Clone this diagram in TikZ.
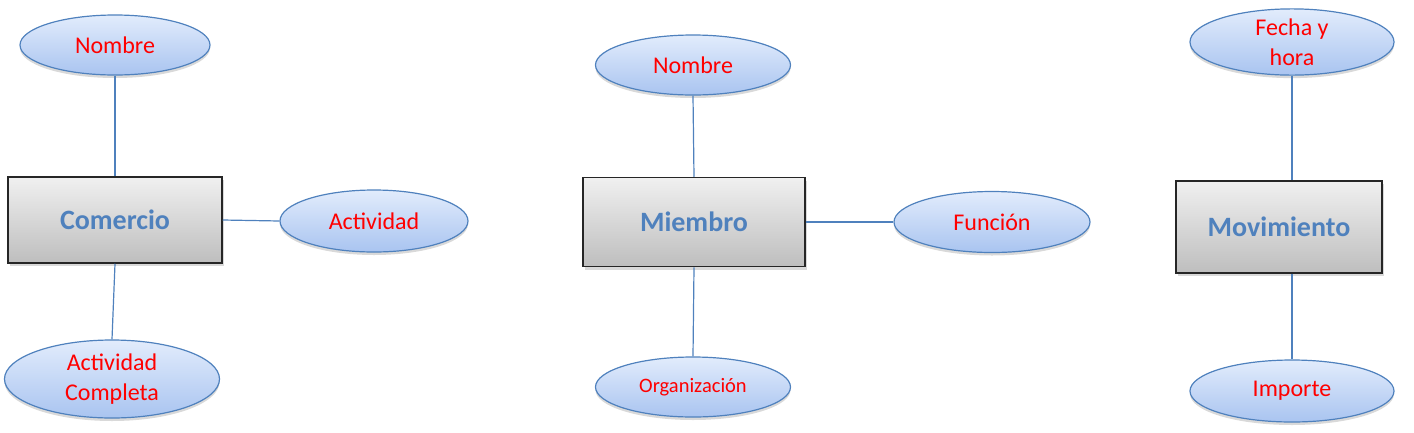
\documentclass[tikz,border=0pt]{standalone}
\usepackage{fontspec}
\setmainfont{Carlito}
\usetikzlibrary{shapes.geometric,shadows}
\definecolor{ebord}{HTML}{4F81BD}
\definecolor{etop}{HTML}{E2ECFC}
\definecolor{ebot}{HTML}{A9C4F0}
\definecolor{ltxt}{HTML}{FF0000}
\definecolor{etxt}{HTML}{4F81BD}
\definecolor{rtop}{HTML}{F0F0F0}
\definecolor{rbot}{HTML}{BEBEBE}
\tikzset{
  attr/.style={ellipse, draw=ebord, line width=1.2pt, top color=etop, bottom color=ebot,
    text=ltxt, font=\fontsize{24}{30}\selectfont, align=center, inner sep=0pt,
    drop shadow={shadow xshift=0pt, shadow yshift=-3pt, opacity=0.3}},
  ent/.style={rectangle, draw=black!85, line width=1.5pt, top color=rtop, bottom color=rbot,
    text=etxt, font=\fontsize{28}{32}\selectfont\bfseries, inner sep=0pt,
    drop shadow={shadow xshift=2pt, shadow yshift=-3pt, opacity=0.3}},
  link/.style={draw=ebord, line width=1.2pt}
}
\begin{document}
\begin{tikzpicture}[x=1pt,y=-1pt]
\useasboundingbox (0,0) rectangle (1414,432);
% Comercio
\node[ent, minimum width=214pt, minimum height=86pt] (com) at (115,220) {Comercio};
\node[attr, minimum width=190pt, minimum height=60pt] (cnom) at (115,45) {Nombre};
\node[attr, minimum width=188pt, minimum height=62pt] (cact) at (374,221) {Actividad};
\node[attr, minimum width=215pt, minimum height=78pt] (ccom) at (112,379) {Actividad\\Completa};
\draw[link] (cnom.south) -- (com.north);
\draw[link] (com.east) -- (cact.west);
\draw[link] (com.south) -- (ccom.north);
% Miembro
\node[ent, minimum width=222pt, minimum height=89pt] (mie) at (694,222) {Miembro};
\node[attr, minimum width=195pt, minimum height=60pt] (mnom) at (693,65) {Nombre};
\node[attr, minimum width=196pt, minimum height=61pt] (mfun) at (992,222) {Función};
\node[attr, minimum width=195pt, minimum height=60pt, font=\fontsize{20.5}{24}\selectfont] (morg) at (693,387) {Organización};
\draw[link] (mnom.south) -- (mie.north);
\draw[link] (mie.east) -- (mfun.west);
\draw[link] (mie.south) -- (morg.north);
% Movimiento
\node[ent, minimum width=206pt, minimum height=92pt] (mov) at (1279,227) {Movimiento};
\node[attr, minimum width=204pt, minimum height=64pt] (mfec) at (1292,42) {Fecha y\\hora};
\node[attr, minimum width=204pt, minimum height=62pt] (mimp) at (1292,391) {Importe};
\draw[link] (mfec.south) -- (mfec.south |- mov.north);
\draw[link] (mimp.north |- mov.south) -- (mimp.north);
\end{tikzpicture}
\end{document}
